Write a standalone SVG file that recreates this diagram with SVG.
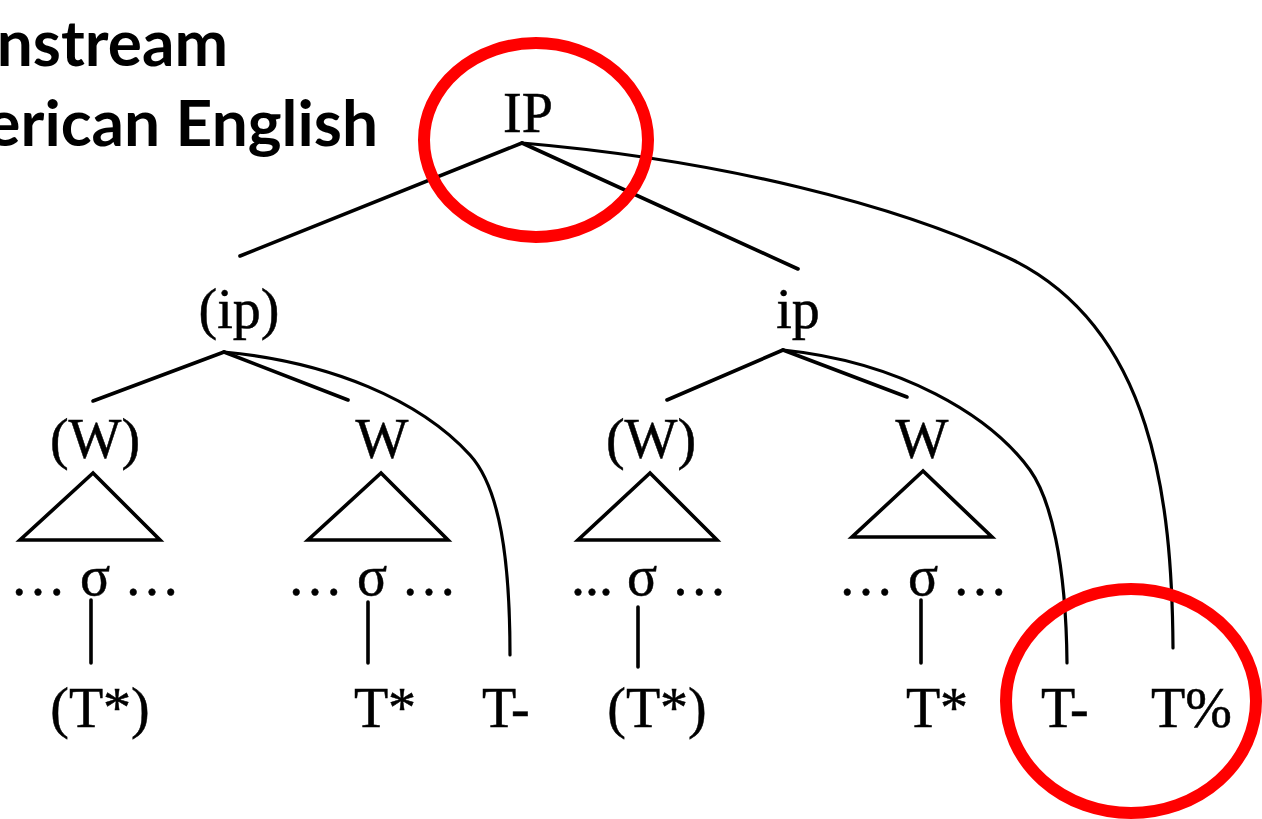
<svg xmlns="http://www.w3.org/2000/svg" width="1262" height="819" viewBox="0 0 1262 819">
  <style>
    .lbl { font-family: "Liberation Serif", "Times New Roman", serif; font-size: 56px; fill: #000; stroke: #000; stroke-width: 0.5; }
    .mid { text-anchor: middle; }
    .title { font-family: Lato, "Open Sans", sans-serif; font-weight: bold; font-size: 64px; fill: #000; text-anchor: end; }
    .edge { fill: none; stroke: #000; stroke-width: 3.6; stroke-linecap: round; }
    .curve { fill: none; stroke: #000; stroke-width: 3.2; stroke-linecap: round; }
    .tri { fill: none; stroke: #000; stroke-width: 3.6; stroke-linejoin: miter; }
    .ring { fill: none; stroke: #ff0000; stroke-width: 12; }
  </style>
  <rect width="1262" height="819" fill="#fff"/>

  <!-- heading, running off the left edge -->
  <g id="title">
    <text class="title" x="228" y="66">nstream</text>
    <text class="title" x="378" y="146">erican English</text>
  </g>

  <!-- tree edges -->
  <g id="connectors">
    <!-- IP -->
    <line class="edge" x1="522" y1="143" x2="240" y2="256"/>
    <line class="edge" x1="522" y1="143" x2="798" y2="269"/>
    <path class="curve" d="M522,143 C720,160 900,205 1013,260 C1153,330 1172,500 1173,648"/>
    <!-- (ip) -->
    <line class="edge" x1="224" y1="352" x2="93" y2="401"/>
    <line class="edge" x1="224" y1="352" x2="348" y2="400"/>
    <path class="curve" d="M224,352 C330,362 420,400 470,455 C500,488 510,560 510,655"/>
    <!-- ip -->
    <line class="edge" x1="783" y1="350" x2="667" y2="400"/>
    <line class="edge" x1="783" y1="350" x2="907" y2="397"/>
    <path class="curve" d="M783,350 C900,362 990,415 1030,470 C1050,498 1066,560 1067,663"/>
    <!-- syllable to tone -->
    <line class="edge" x1="91" y1="600" x2="91" y2="663"/>
    <line class="edge" x1="368" y1="602" x2="368" y2="663"/>
    <line class="edge" x1="638" y1="607" x2="638" y2="667"/>
    <line class="edge" x1="921" y1="600" x2="921" y2="663"/>
  </g>

  <g id="node-IP"><text class="lbl mid" x="528" y="132">IP</text></g>
  <g id="node-ip1"><text class="lbl mid" x="239" y="328">(ip)</text></g>
  <g id="node-ip2"><text class="lbl mid" x="798" y="328">ip</text></g>

  <g id="node-W1">
    <text class="lbl mid" x="95" y="458">(W)</text>
    <polygon class="tri" points="93,473 20,540 160,540"/>
  </g>
  <g id="node-W2">
    <text class="lbl mid" x="382" y="458">W</text>
    <polygon class="tri" points="381,473 308,540 448,540"/>
  </g>
  <g id="node-W3">
    <text class="lbl mid" x="651" y="458">(W)</text>
    <polygon class="tri" points="650,473 578,540 717,540"/>
  </g>
  <g id="node-W4">
    <text class="lbl mid" x="922" y="458">W</text>
    <polygon class="tri" points="923,471 852,537 992,537"/>
  </g>

  <g id="node-s1"><text class="lbl mid" x="95" y="595">… σ …</text></g>
  <g id="node-s2"><text class="lbl mid" x="372" y="595">… σ …</text></g>
  <g id="node-s3"><text class="lbl" x="571" y="595">... σ …</text></g>
  <g id="node-s4"><text class="lbl mid" x="923" y="595">… σ …</text></g>

  <g id="node-t1"><text class="lbl mid" x="100" y="727">(T*)</text></g>
  <g id="node-t2"><text class="lbl mid" x="385" y="727">T*</text></g>
  <g id="node-t3"><text class="lbl" x="482" y="727">T-</text></g>
  <g id="node-t4"><text class="lbl mid" x="657" y="727">(T*)</text></g>
  <g id="node-t5"><text class="lbl mid" x="937" y="727">T*</text></g>
  <g id="node-t6"><text class="lbl" x="1041" y="727">T-</text></g>
  <g id="node-t7"><text class="lbl" x="1151" y="727">T%</text></g>

  <!-- red highlight rings -->
  <g id="highlights">
    <ellipse class="ring" cx="536" cy="140" rx="112" ry="97"/>
    <ellipse class="ring" cx="1131" cy="701" rx="125" ry="112"/>
  </g>
</svg>
